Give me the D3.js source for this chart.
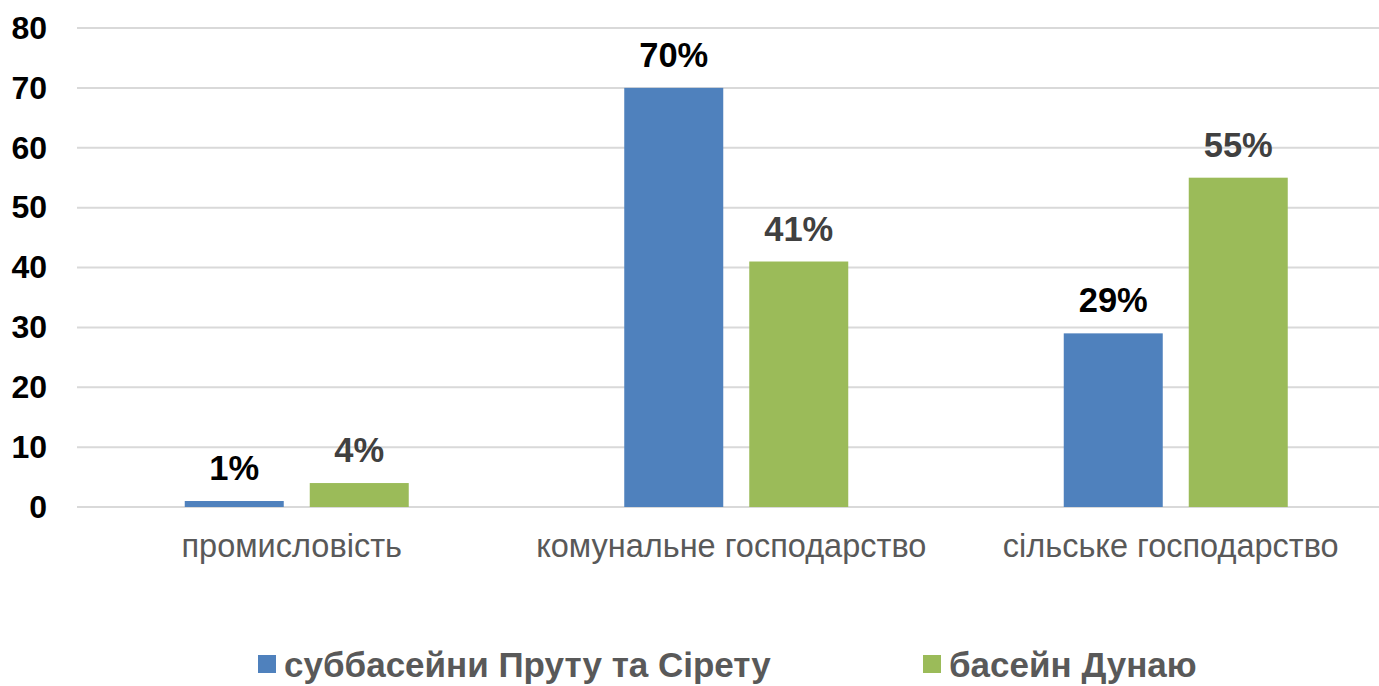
<!DOCTYPE html>
<html>
<head>
<meta charset="utf-8">
<script src="https://cdn.jsdelivr.net/npm/d3@7"></script>
<style>
  body { margin: 0; background: #fff; }
  svg { display: block; font-family: "Liberation Sans", Arial, sans-serif; }
</style>
</head>
<body>
<svg id="chart" width="1379" height="686"></svg>
<script>
const categories = ['промисловість', 'комунальне господарство', 'сільське господарство'];
const seriesNames = ['суббасейни Пруту та Сірету', 'басейн Дунаю'];
const prutSiret = [1, 70, 29];
const danube = [4, 41, 55];
const yTicks = [0, 10, 20, 30, 40, 50, 60, 70, 80];

const colors = ['#4f81bd', '#9bbb59'];
const labelColors = ['#000000', '#404040'];

const svg = d3.select('#chart');

const x0 = d3.scaleBand()
  .domain(categories)
  .range([77, 1395.5]);

const groupWidth = 224;
const x1 = d3.scaleBand()
  .domain(seriesNames)
  .range([(x0.bandwidth() - groupWidth) / 2, (x0.bandwidth() + groupWidth) / 2])
  .paddingInner(0.208);

const y = d3.scaleLinear()
  .domain([0, 80])
  .range([507, 28]);

// gridlines
svg.append('g')
  .selectAll('line')
  .data(yTicks)
  .join('line')
  .attr('x1', 77)
  .attr('x2', 1400)
  .attr('y1', d => y(d))
  .attr('y2', d => y(d))
  .attr('stroke', '#d9d9d9')
  .attr('stroke-width', 2);

// y axis labels
const yAxis = svg.append('g')
  .attr('transform', 'translate(47,0)')
  .call(d3.axisLeft(y).tickValues(yTicks).tickSize(0).tickPadding(0));
yAxis.select('.domain').remove();
yAxis.selectAll('text')
  .attr('font-family', '"Liberation Sans", Arial, sans-serif')
  .attr('font-size', 32)
  .attr('font-weight', 'bold')
  .attr('fill', '#000');

// bars
const rows = categories.map((c, i) => ({
  category: c,
  values: [prutSiret[i], danube[i]]
}));

const groups = svg.append('g')
  .selectAll('g')
  .data(rows)
  .join('g')
  .attr('transform', d => `translate(${x0(d.category)},0)`);

groups.selectAll('rect')
  .data(d => d.values.map((v, j) => ({ key: seriesNames[j], value: v, j })))
  .join('rect')
  .attr('x', d => x1(d.key))
  .attr('width', x1.bandwidth())
  .attr('y', d => y(d.value))
  .attr('height', d => y(0) - y(d.value))
  .attr('fill', d => colors[d.j]);

groups.selectAll('text.value')
  .data(d => d.values.map((v, j) => ({ key: seriesNames[j], value: v, j })))
  .join('text')
  .attr('class', 'value')
  .attr('x', d => x1(d.key) + x1.bandwidth() / 2)
  .attr('y', d => y(d.value) - 21)
  .attr('text-anchor', 'middle')
  .attr('font-size', 34.5)
  .attr('font-weight', 'bold')
  .attr('fill', d => labelColors[d.j])
  .text(d => d.value + '%');

// category labels
svg.append('g')
  .selectAll('text')
  .data(categories)
  .join('text')
  .attr('x', d => x0(d) + x0.bandwidth() / 2 - 5)
  .attr('y', 557)
  .attr('text-anchor', 'middle')
  .attr('font-size', 32.5)
  .attr('fill', '#595959')
  .text(d => d);

// legend (kept just inside the bottom edge)
const legendX = [258, 923];
const legend = svg.append('g')
  .selectAll('g')
  .data(seriesNames)
  .join('g')
  .attr('transform', (d, i) => `translate(${legendX[i]},0)`);

legend.append('rect')
  .attr('x', 0)
  .attr('y', 655)
  .attr('width', 18)
  .attr('height', 18)
  .attr('fill', (d, i) => colors[i]);

legend.append('text')
  .attr('x', 26)
  .attr('y', 677)
  .attr('font-size', 35)
  .attr('font-weight', 'bold')
  .attr('fill', '#595959')
  .text(d => d);
</script>
</body>
</html>
